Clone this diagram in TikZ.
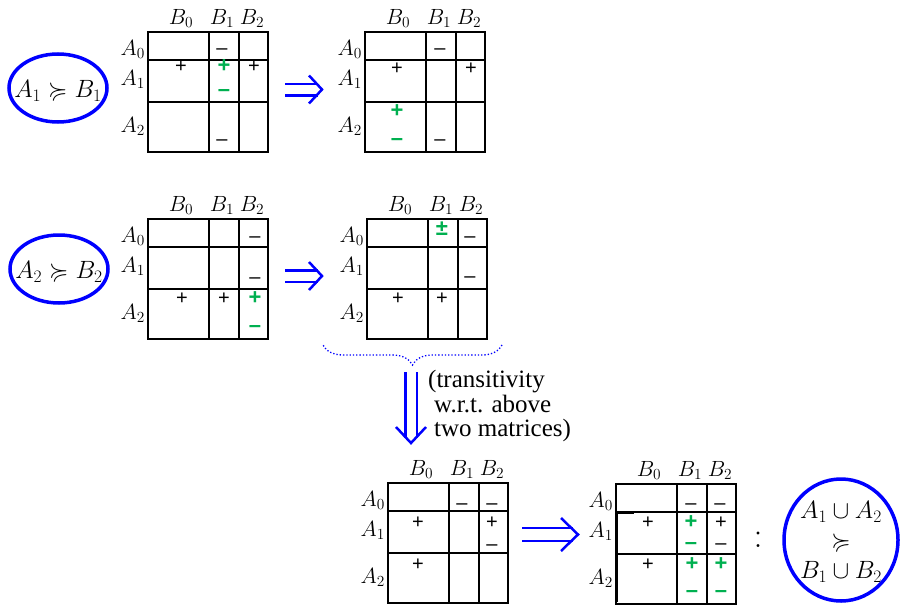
\RequirePackage{fix-cm}
\documentclass[tikz,border=0pt]{standalone}
\usepackage{amssymb}
\usepackage{fontspec}
\newfontfamily\notefont{Liberation Serif}
\newfontfamily\tekenfont{Liberation Sans}
\usetikzlibrary{decorations.pathreplacing}

\definecolor{plusgroen}{RGB}{0,176,80}

\tikzset{
  cel/.style={line width=1.8pt},
  kolkop/.style={anchor=base, inner sep=0pt, font=\fontsize{22}{24}\selectfont},
  rijkop/.style={anchor=base east, inner sep=0pt, font=\fontsize{22}{24}\selectfont},
  teken/.style={inner sep=0pt, text height=0.58em, text depth=0pt,
                font=\tekenfont\fontsize{20}{20}\selectfont},
  groen/.style={teken, text=plusgroen, font=\tekenfont\bfseries\fontsize{22}{22}\selectfont},
  impl/.style={draw=blue, line width=2.5pt, double=white, double distance=9pt},
  punt/.style={draw=blue, line width=2.5pt, line join=miter},
  ovaal/.style={draw=blue, line width=3.5pt},
  groot/.style={inner sep=0pt, font=\fontsize{25}{30}\selectfont}
}

% rooster met kolom- en rijkoppen
\newcommand{\rooster}[1]{%
  \draw[cel] (0,0) rectangle (120,120);
  \draw[cel] (61,0) -- (61,120) (91,0) -- (91,120) (0,28) -- (120,28) (0,70) -- (120,70);
  \node[kolkop] (#1b0) at (33,-8) {$B_0$};
  \node[kolkop] (#1b1) at (74,-8) {$B_1$};
  \node[kolkop] (#1b2) at (104,-8) {$B_2$};
  \node[rijkop] (#1a0) at (-3,23) {$A_0$};
  \node[rijkop] (#1a1) at (-3,53) {$A_1$};
  \node[rijkop] (#1a2) at (-3,100) {$A_2$};
}

\begin{document}
\begin{tikzpicture}[x=1pt, y=-1pt]
    \useasboundingbox (0,0) rectangle (901,605);

    % Bovenste rij: A1 tegen B1
    \node[groot] (e1) at (58,91) {$A_1 \succcurlyeq B_1$};
    \draw[ovaal] (58,88) ellipse [x radius=49pt, y radius=34pt];
    \begin{scope}[shift={(148,32)}]
        \rooster{m1}
        \foreach \x/\y [count=\i] in {33/38,106/38} \node[teken] (m1p\i) at (\x,\y) {+};
        \foreach \x/\y [count=\i] in {74/20,74/111} \node[teken] (m1m\i) at (\x,\y) {–};
        \node[groen] (m1gp) at (76,38) {+};
        \node[groen] (m1gm) at (76,62) {–};
    \end{scope}
    \coordinate (i1s) at (285,89.5);
    \coordinate (i1e) at (318,89.5);
    \draw[impl] (i1s) -- (i1e);
    \draw[punt] (i1e) ++(-9,-14) -- ++(13,14) -- ++(-13,14);
    \begin{scope}[shift={(365,32)}]
        \rooster{m2}
        \foreach \x/\y [count=\i] in {32/40,106/40} \node[teken] (m2p\i) at (\x,\y) {+};
        \foreach \x/\y [count=\i] in {75/20,75/111} \node[teken] (m2m\i) at (\x,\y) {–};
        \node[groen] (m2gp) at (32,83) {+};
        \node[groen] (m2gm) at (32,111) {–};
    \end{scope}

    % Middelste rij: A2 tegen B2
    \node[groot] (e2) at (59,272) {$A_2 \succcurlyeq B_2$};
    \draw[ovaal] (59,269) ellipse [x radius=49pt, y radius=34pt];
    \begin{scope}[shift={(148,219)}]
        \rooster{m3}
        \foreach \x/\y [count=\i] in {34/83,76/83} \node[teken] (m3p\i) at (\x,\y) {+};
        \foreach \x/\y [count=\i] in {107/21,107/62} \node[teken] (m3m\i) at (\x,\y) {–};
        \node[groen] (m3gp) at (107,83) {+};
        \node[groen] (m3gm) at (107,111) {–};
    \end{scope}
    \coordinate (i2s) at (285,276);
    \coordinate (i2e) at (318,276);
    \draw[impl] (i2s) -- (i2e);
    \draw[punt] (i2e) ++(-9,-14) -- ++(13,14) -- ++(-13,14);
    \begin{scope}[shift={(367,219)}]
        \rooster{m4}
        \foreach \x/\y [count=\i] in {31/83,75/83} \node[teken] (m4p\i) at (\x,\y) {+};
        \foreach \x/\y [count=\i] in {103/21,103/61} \node[teken] (m4m\i) at (\x,\y) {–};
        \node[groen] (m4pm) at (75,14) {±};
    \end{scope}

    % Accolade en transitiviteit
    \draw[blue, dotted, line width=1.3pt, decorate, decoration={brace, amplitude=20pt}]
        (502,345) -- (323,345);
    \coordinate (i3s) at (411,372);
    \coordinate (i3e) at (411,438);
    \draw[impl] (i3s) -- (i3e);
    \draw[punt] (i3e) ++(-15,-11) -- ++(15,16) -- ++(15,-16);
    \node[anchor=north west, inner sep=0pt, align=left,
          font=\notefont\fontsize{25}{24.5}\selectfont] (noot) at (428,370)
        {(transitivity\\\hspace{6pt}w.r.t. above\\\hspace{6pt}two matrices)};

    % Onderste rij
    \begin{scope}[shift={(388,483)}]
        \rooster{m5}
        \foreach \x/\y [count=\i] in {30/43,104/43,30/85} \node[teken] (m5p\i) at (\x,\y) {+};
        \foreach \x/\y [count=\i] in {74/24,104/24,104/65} \node[teken] (m5m\i) at (\x,\y) {–};
    \end{scope}
    \coordinate (i4s) at (522,534.5);
    \coordinate (i4e) at (573,534.5);
    \draw[impl, double distance=10.5pt] (i4s) -- (i4e);
    \draw[punt] (i4e) ++(-12,-16.5) -- ++(17,16.5) -- ++(-17,16.5);
    \begin{scope}[shift={(616,484)}]
        \rooster{m6}
        \draw[line width=3pt] (0.5,29) -- (0.5,118) (0,28) -- (18,28);
        \foreach \x/\y [count=\i] in {32/42,105/42,32/84} \node[teken] (m6p\i) at (\x,\y) {+};
        \foreach \x/\y [count=\i] in {75/23,104/23,105/63} \node[teken] (m6m\i) at (\x,\y) {–};
        \foreach \x/\y [count=\i] in {75/42,76/84,105/84} \node[groen] (m6gp\i) at (\x,\y) {+};
        \foreach \x/\y [count=\i] in {75/63,76/111,105/111} \node[groen] (m6gm\i) at (\x,\y) {–};
    \end{scope}

    % Conclusie
    \node[inner sep=0pt, font=\fontsize{36}{36}\selectfont] (dp) at (758,540) {$:$};
    \node[groot, align=center] (e3) at (841,542)
        {$A_1 \cup A_2$\\$\succcurlyeq$\\$B_1 \cup B_2$};
    \draw[ovaal] (841,540) ellipse [x radius=57pt, y radius=61pt];
\end{tikzpicture}
\end{document}
